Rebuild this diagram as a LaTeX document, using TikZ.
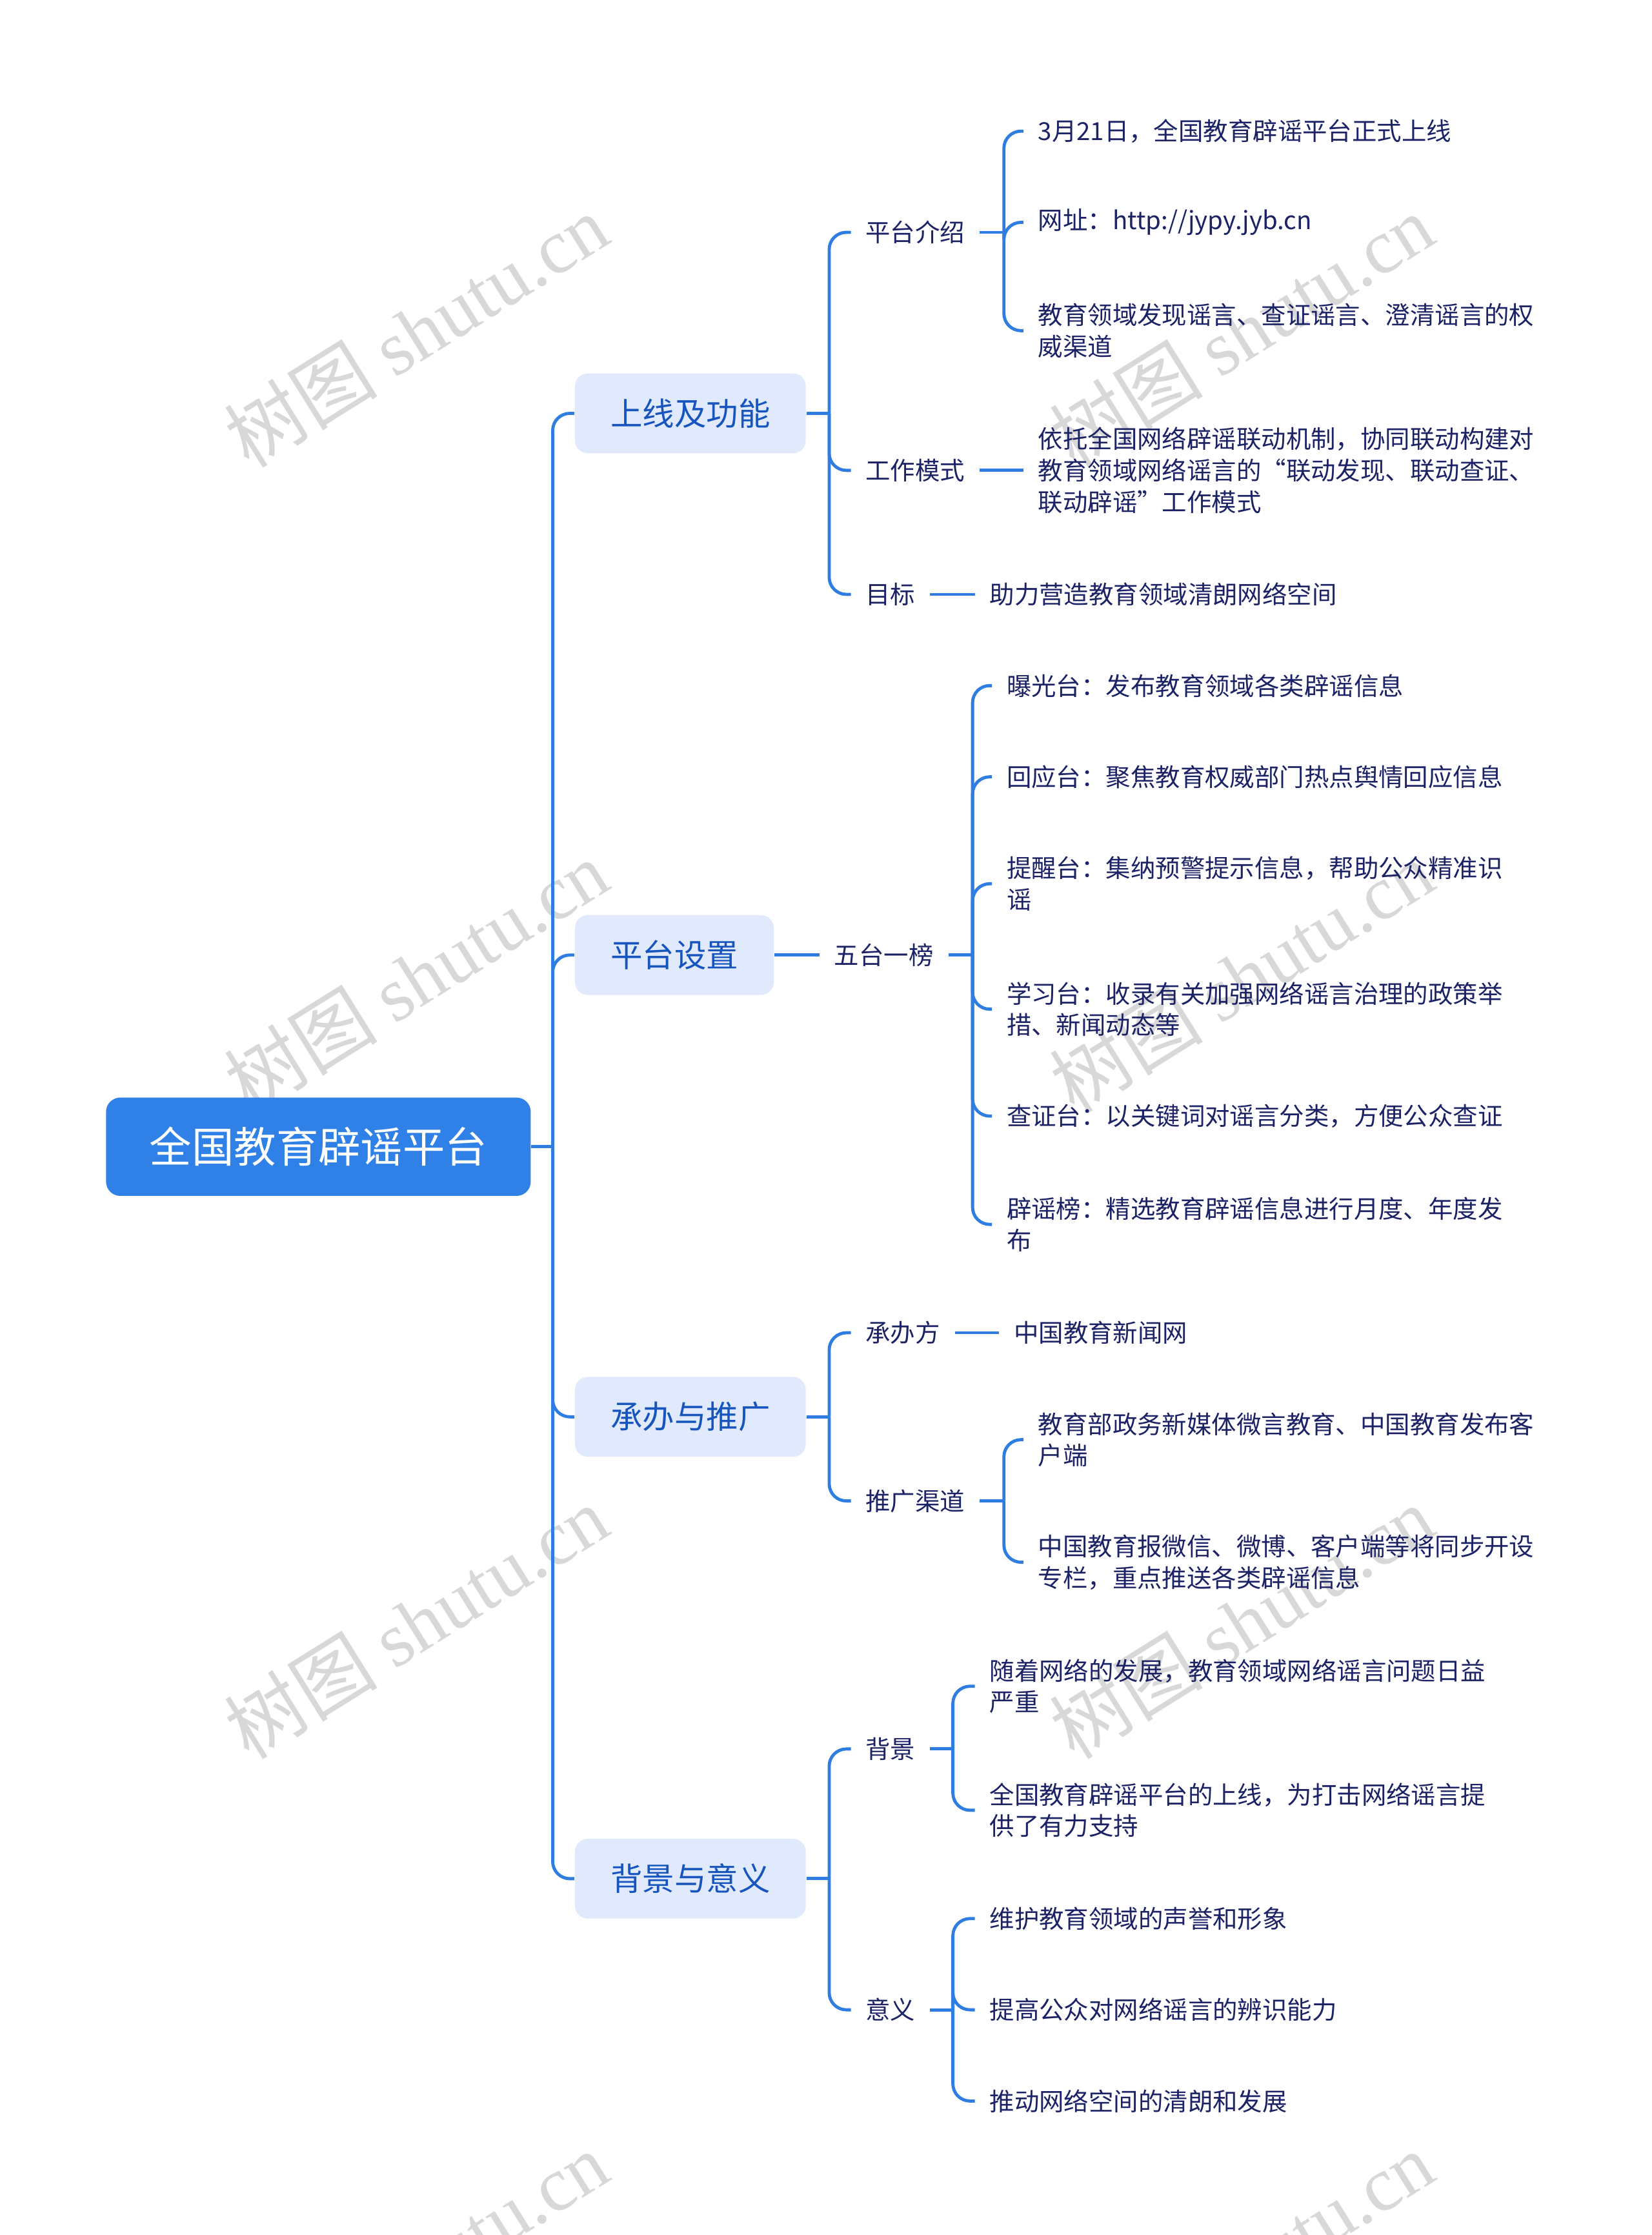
\documentclass[tikz,border=0pt]{standalone}
\usepackage{fontspec}
\setmainfont{Noto Sans CJK SC}
\newfontfamily\wmserif{Liberation Serif}
\definecolor{lineblue}{HTML}{2F7DE1}
\definecolor{rootblue}{HTML}{2F80E7}
\definecolor{boxfill}{HTML}{E1E9FC}
\definecolor{lvltext}{HTML}{1654BE}
\definecolor{navy}{HTML}{1C2266}
\definecolor{wmgray}{HTML}{D8D8D8}
\tikzset{
  conn/.style={draw=lineblue, line width=1.1pt, rounded corners=6pt},
  rootbox/.style={fill=rootblue, text=white, rounded corners=5pt, anchor=west,
    font=\fontsize{14.8}{18}\selectfont, minimum width=149pt, minimum height=34.5pt, inner sep=0pt},
  lvlbox/.style={fill=boxfill, text=lvltext, rounded corners=4.5pt, anchor=west,
    font=\fontsize{11.2}{14}\selectfont, inner xsep=12.5pt, inner ysep=0pt, minimum height=28pt},
  txt/.style={text=navy, anchor=west, align=left, inner xsep=5pt, inner ysep=1pt,
    font=\fontsize{8.7}{11}\selectfont},
  wm/.style={text=wmgray, rotate=32, font=\fontsize{27}{29}\selectfont, inner sep=0pt}
}
\begin{document}
\begin{tikzpicture}[x=0.5pt, y=-0.5pt]
\useasboundingbox (0,0) rectangle (1159,1568);
% watermarks
\foreach \wx in {292,871}{
  \foreach \wy in {232,685,1138,1591}{
    \node[wm] (wm-\wx-\wy) at (\wx,\wy) {树图 {\wmserif shutu.cn}};
  }
}
% root
\node[rootbox] (root) at (74,804.5) {全国教育辟谣平台};
% level 1
\node[lvlbox] (a) at (403,290) {上线及功能};
\node[lvlbox] (b) at (403,670) {平台设置};
\node[lvlbox] (c) at (403,994) {承办与推广};
\node[lvlbox] (d) at (403,1318) {背景与意义};
% level 2
\node[txt] (a1) at (597,163) {平台介绍};
\node[txt] (a2) at (597,330) {工作模式};
\node[txt] (a3) at (597,417) {目标};
\node[txt] (b1) at (575,670) {五台一榜};
\node[txt] (c1) at (597,935) {承办方};
\node[txt] (c2) at (597,1053) {推广渠道};
\node[txt] (d1) at (597,1227) {背景};
\node[txt] (d2) at (597,1410) {意义};
% leaves
\node[txt] (a1a) at (718,92) {3月21日，全国教育辟谣平台正式上线};
\node[txt] (a1b) at (718,156) {网址：http://jypy.jyb.cn};
\node[txt] (a1c) at (718,232) {教育领域发现谣言、查证谣言、澄清谣言的权\\威渠道};
\node[txt] (a2a) at (718,330) {依托全国网络辟谣联动机制，协同联动构建对\\教育领域网络谣言的“联动发现、联动查证、\\联动辟谣”工作模式};
\node[txt] (a3a) at (684,417) {助力营造教育领域清朗网络空间};
\node[txt] (b1a) at (696,481) {曝光台：发布教育领域各类辟谣信息};
\node[txt] (b1b) at (696,545) {回应台：聚焦教育权威部门热点舆情回应信息};
\node[txt] (b1c) at (696,620) {提醒台：集纳预警提示信息，帮助公众精准识\\谣};
\node[txt] (b1d) at (696,708) {学习台：收录有关加强网络谣言治理的政策举\\措、新闻动态等};
\node[txt] (b1e) at (696,783) {查证台：以关键词对谣言分类，方便公众查证};
\node[txt] (b1f) at (696,859) {辟谣榜：精选教育辟谣信息进行月度、年度发\\布};
\node[txt] (c1a) at (701,935) {中国教育新闻网};
\node[txt] (c2a) at (718,1010) {教育部政务新媒体微言教育、中国教育发布客\\户端};
\node[txt] (c2b) at (718,1096) {中国教育报微信、微博、客户端等将同步开设\\专栏，重点推送各类辟谣信息};
\node[txt] (d1a) at (684,1183) {随着网络的发展，教育领域网络谣言问题日益\\严重};
\node[txt] (d1b) at (684,1270) {全国教育辟谣平台的上线，为打击网络谣言提\\供了有力支持};
\node[txt] (d2a) at (684,1346) {维护教育领域的声誉和形象};
\node[txt] (d2b) at (684,1410) {提高公众对网络谣言的辨识能力};
\node[txt] (d2c) at (684,1474) {推动网络空间的清朗和发展};
% connectors
\draw[conn] (root.east) -- ++(15,0) coordinate (rj);
\foreach \n in {a,b,c,d} \draw[conn] (rj) |- (\n.west);
\draw[conn] (a.east) -- ++(16,0) coordinate (aj);
\foreach \n in {a1,a2,a3} \draw[conn] (aj) |- (\n.west);
\draw[conn] (a1.east) -- ++(17,0) coordinate (a1j);
\foreach \n in {a1a,a1b,a1c} \draw[conn] (a1j) |- (\n.west);
\draw[conn] (a2.east) -- (a2a.west);
\draw[conn] (a3.east) -- (a3a.west);
\draw[conn] (b.east) -- (b1.west);
\draw[conn] (b1.east) -- ++(17,0) coordinate (b1j);
\foreach \n in {b1a,b1b,b1c,b1d,b1e,b1f} \draw[conn] (b1j) |- (\n.west);
\draw[conn] (c.east) -- ++(16,0) coordinate (cj);
\foreach \n in {c1,c2} \draw[conn] (cj) |- (\n.west);
\draw[conn] (c1.east) -- (c1a.west);
\draw[conn] (c2.east) -- ++(17,0) coordinate (c2j);
\foreach \n in {c2a,c2b} \draw[conn] (c2j) |- (\n.west);
\draw[conn] (d.east) -- ++(16,0) coordinate (dj);
\foreach \n in {d1,d2} \draw[conn] (dj) |- (\n.west);
\draw[conn] (d1.east) -- ++(16,0) coordinate (d1j);
\foreach \n in {d1a,d1b} \draw[conn] (d1j) |- (\n.west);
\draw[conn] (d2.east) -- ++(16,0) coordinate (d2j);
\foreach \n in {d2a,d2b,d2c} \draw[conn] (d2j) |- (\n.west);
\end{tikzpicture}
\end{document}
